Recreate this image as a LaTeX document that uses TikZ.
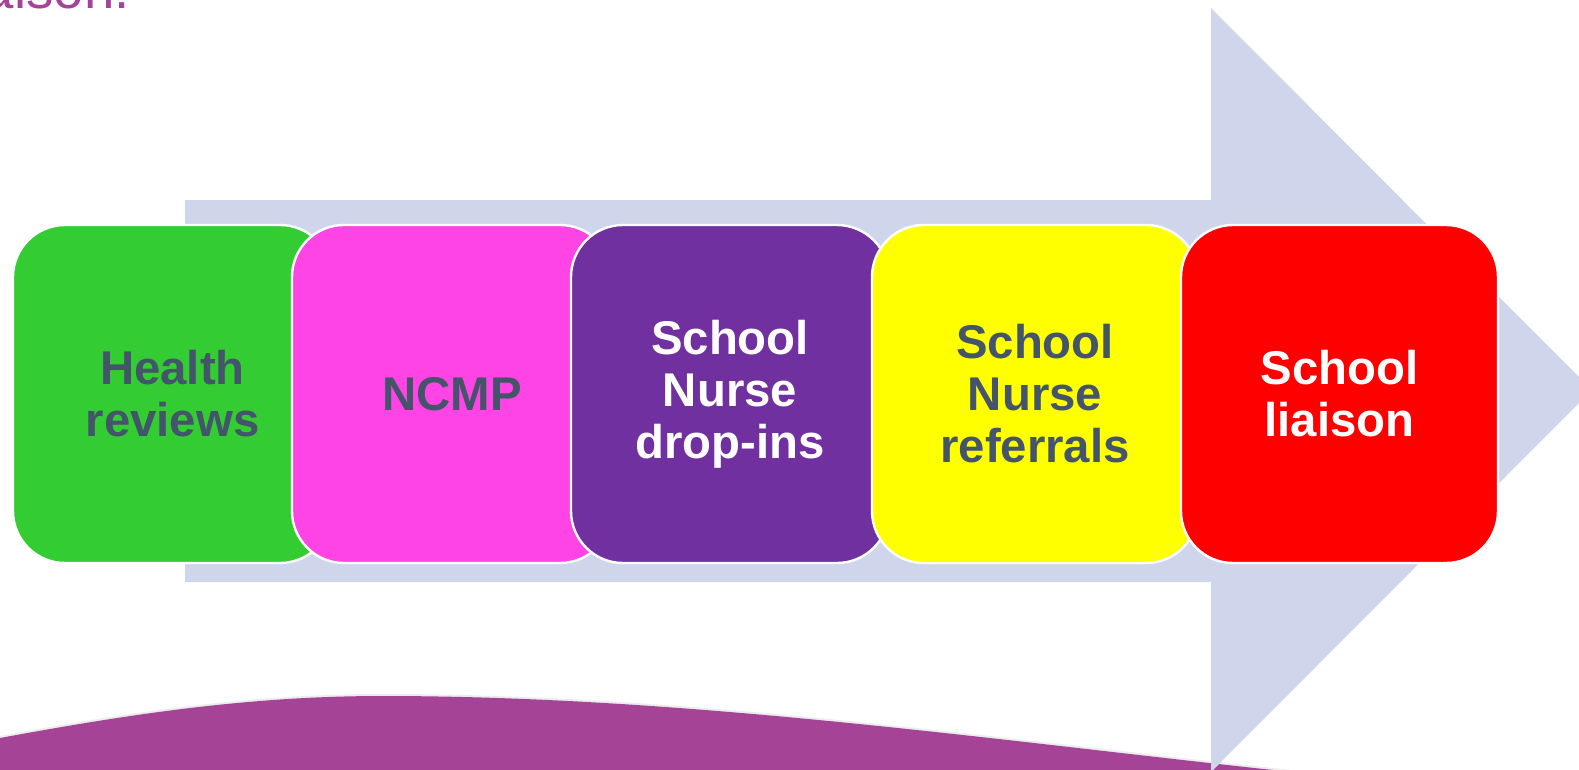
\documentclass[tikz,border=0pt]{standalone}
\usepackage{fontspec}
\setmainfont{Liberation Sans}
\definecolor{arrowc}{RGB}{207,213,234}
\definecolor{wavec}{RGB}{165,68,151}
\definecolor{wavel}{RGB}{236,236,236}
\definecolor{textc}{RGB}{68,84,106}
\definecolor{boxgreen}{RGB}{51,204,51}
\definecolor{boxpink}{RGB}{255,68,230}
\definecolor{boxpurple}{RGB}{112,48,160}
\definecolor{boxyellow}{RGB}{255,255,0}
\definecolor{boxred}{RGB}{255,0,0}
\begin{document}
\begin{tikzpicture}[x=0.75pt,y=-0.75pt,
  box/.style={rectangle, rounded corners=39pt, draw=white, line width=1.8pt,
    minimum height=253.5pt, inner sep=0pt, align=center,
    font=\fontsize{35.5}{39}\selectfont\bfseries, text=textc}]
\useasboundingbox (0,0) rectangle (1579,769);
\clip (0,0) rectangle (1579,769);
% title fragment
\node[anchor=base east, text=wavec, font=\fontsize{41}{41}\selectfont, inner sep=0pt] (title) at (130,8.5) {liaison.};
% bottom wave
\fill[wavec, preaction={draw=wavel, line width=3pt}]
  (-10,740) -- (0,738) .. controls (130,714) and (250,696) .. (382,696)
  .. controls (700,696) and (1020,744) .. (1320,775)
  -- (1320,800) -- (-10,800) -- cycle;
% big arrow
\fill[arrowc] (185,200) -- (1211,200) -- (1211,8) -- (1592,390) -- (1211,772)
  -- (1211,582) -- (185,582) -- cycle;
% boxes
\node[box, fill=boxgreen, minimum width=239.25pt] (b1) at (172.5,394) {Health\\reviews};
\node[box, fill=boxpink, minimum width=240pt] (b2) at (452,394) {NCMP};
\node[box, fill=boxpurple, minimum width=238.5pt, text=white] (b3) at (730,394) {School\\Nurse\\drop-ins};
\node[box, fill=boxyellow, minimum width=244.5pt] (b4) at (1035,394) {School\\Nurse\\referrals};
\node[box, fill=boxred, minimum width=237.75pt, text=white] (b5) at (1339.5,394) {School\\liaison};
\end{tikzpicture}
\end{document}
